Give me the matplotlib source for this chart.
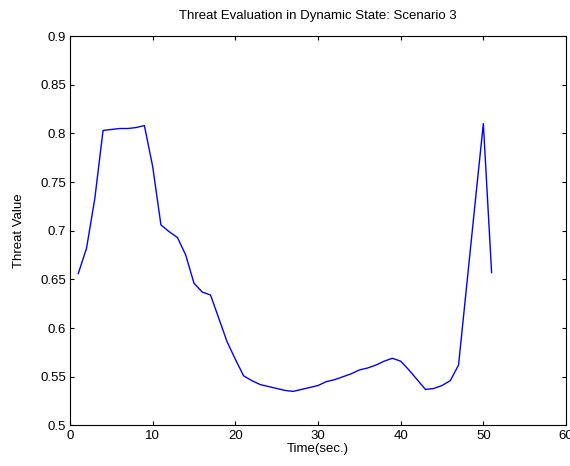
import matplotlib
matplotlib.use("Agg")
import matplotlib.pyplot as plt
import numpy as np

# threat value, one sample per second
time_s = list(range(1, 52))
threat = [0.656, 0.682, 0.733, 0.803, 0.804, 0.805, 0.805, 0.806, 0.808, 0.766,
          0.706, 0.699, 0.693, 0.675, 0.646, 0.637, 0.634, 0.610, 0.586, 0.568,
          0.551, 0.546, 0.542, 0.540, 0.538, 0.536, 0.535, 0.537, 0.539, 0.541,
          0.545, 0.547, 0.550, 0.553, 0.557, 0.559, 0.562, 0.566, 0.569, 0.566,
          0.557, 0.547, 0.537, 0.538, 0.541, 0.546, 0.562, 0.645, 0.728, 0.810,
          0.657]

x_ticks = [0, 10, 20, 30, 40, 50, 60]
y_ticks = [0.5, 0.55, 0.6, 0.65, 0.7, 0.75, 0.8, 0.85, 0.9]
y_tick_labels = ["0.5", "0.55", "0.6", "0.65", "0.7", "0.75", "0.8", "0.85", "0.9"]

plt.rcParams["font.family"] = ["Liberation Sans", "DejaVu Sans"]
fs = 9.5

fig = plt.figure(figsize=(5.7, 4.66), dpi=100)
ax = fig.add_axes([0.1228, 0.087, 0.8702, 0.8357])
ax.plot(time_s, threat, color="#0000ff", linewidth=1.0)

ax.set_xlim(0, 60)
ax.set_ylim(0.5, 0.9)
ax.set_xticks(x_ticks)
ax.set_yticks(y_ticks)
ax.set_yticklabels(y_tick_labels)
ax.tick_params(direction="in", length=3, width=0.8, labelsize=fs, top=True, right=True, pad=3)
for s in ax.spines.values():
    s.set_linewidth(0.8)

ax.set_title("Threat Evaluation in Dynamic State: Scenario 3", fontsize=fs, pad=12)
ax.set_xlabel("Time(sec.)", fontsize=fs, labelpad=1)
ax.set_ylabel("Threat Value", fontsize=fs, labelpad=11)

fig.savefig("out.png", dpi=100)
